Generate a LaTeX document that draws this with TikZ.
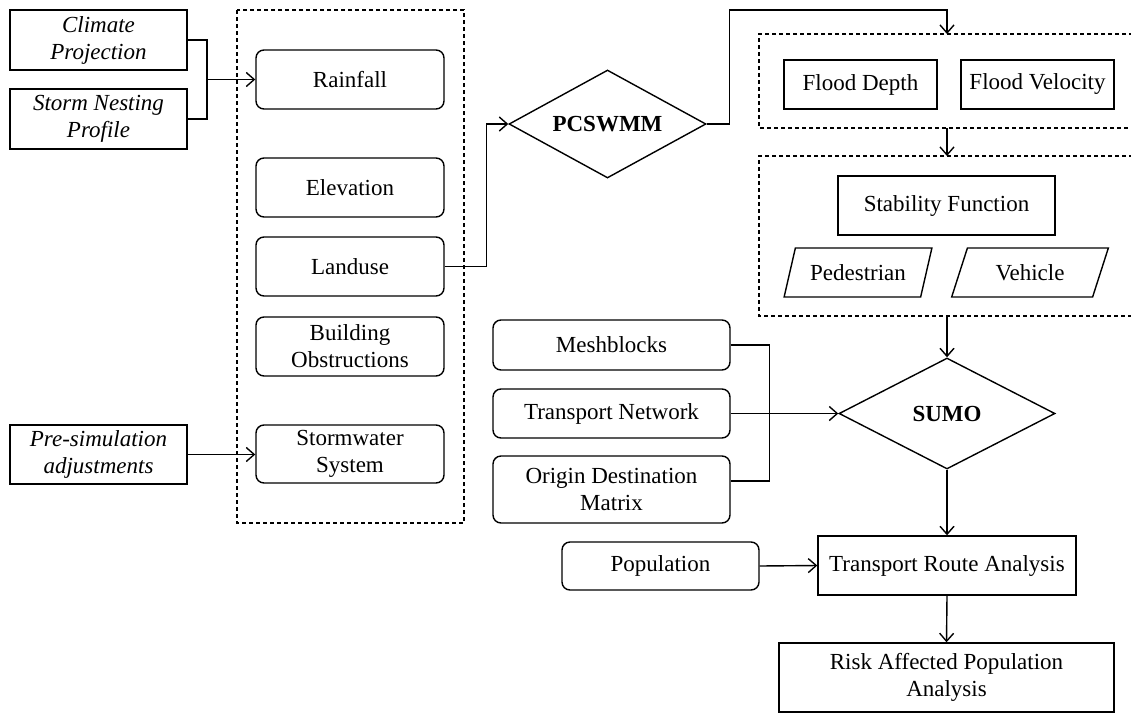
\documentclass[tikz,border=0pt]{standalone}
\usepackage{fontspec}
\setmainfont{Liberation Serif}
\usetikzlibrary{shapes.geometric,arrows.meta,calc}
\begin{document}
\begin{tikzpicture}[x=1pt,y=-1pt,
  every node/.style={font=\fontsize{23}{27}\selectfont, align=center, inner sep=0pt},
  sq/.style={draw, line width=1.4pt, rectangle},
  rnd/.style={draw, line width=1.4pt, rounded corners=8pt, rectangle},
  dia/.style={draw, line width=1.4pt, diamond, aspect=1.8, font=\fontsize{23}{27}\selectfont\bfseries},
  para/.style={draw, line width=1.4pt, trapezium, trapezium left angle=62, trapezium right angle=118, trapezium stretches=true},
  grp/.style={draw, line width=1.2pt, dash pattern=on 4pt off 3pt},
  arr/.style={line width=1.4pt, -{Straight Barb[length=8pt,width=14pt]}},
  ln/.style={line width=1.4pt}]
\fill[white] (0,0) rectangle (1131,715);
\useasboundingbox (0,0) rectangle (1131,715);
\clip (0,0) rectangle (1131,715);

% groups
\draw[grp] (237,10) rectangle (464,523);
\draw[grp] (1140,34) -| (759,128) -- (1140,128);
\draw[grp] (1140,156) -| (759,316) -- (1140,316);
\coordinate (g1t) at (947,34);
\coordinate (g1b) at (947,128);
\coordinate (g2t) at (947,156);
\coordinate (g2b) at (947,316);
\coordinate (topturn) at (947,10);

% left inputs
\node[sq, minimum width=177pt, minimum height=60pt] (clim) at (98.5,40) {\itshape Climate\\\itshape Projection};
\node[sq, minimum width=177pt, minimum height=60pt] (storm) at (98.5,119) {\itshape Storm Nesting\\\itshape Profile};
\node[sq, minimum width=177pt, minimum height=59pt] (presim) at (98.5,454.5) {\itshape Pre-simulation\\\itshape adjustments};

% data inputs
\node[rnd, minimum width=188pt, minimum height=59pt] (rain) at (350,79.5) {Rainfall};
\node[rnd, minimum width=188pt, minimum height=59pt] (elev) at (350,187.5) {Elevation};
\node[rnd, minimum width=188pt, minimum height=59pt] (land) at (350,266.5) {Landuse};
\node[rnd, minimum width=188pt, minimum height=59pt] (build) at (350,346.5) {Building\\Obstructions};
\node[rnd, minimum width=188pt, minimum height=58pt] (storw) at (350,454) {Stormwater\\System};

% PCSWMM
\node[dia, minimum width=197pt, minimum height=108pt] (pcswmm) at (607.5,124) {PCSWMM};

% flood outputs
\node[sq, minimum width=153pt, minimum height=49pt] (fd) at (860.5,84.5) {Flood Depth};
\node[sq, minimum width=153pt, minimum height=49pt] (fv) at (1037.5,84.5) {Flood Velocity};
\node[sq, minimum width=217pt, minimum height=59pt] (stab) at (946.5,205.5) {Stability Function};
\node[para, minimum width=148pt, minimum height=49pt] (ped) at (858,272.5) {Pedestrian};
\node[para, minimum width=158pt, minimum height=49pt] (veh) at (1030,272.5) {Vehicle};

% SUMO inputs
\node[rnd, minimum width=237pt, minimum height=50pt] (mesh) at (611.5,345) {Meshblocks};
\node[rnd, minimum width=237pt, minimum height=49pt] (trans) at (611.5,413.5) {Transport Network};
\node[rnd, minimum width=237pt, minimum height=67pt] (odm) at (611.5,489.5) {Origin Destination\\Matrix};
\node[rnd, minimum width=197pt, minimum height=48pt] (pop) at (660.5,566) {Population};

\node[dia, minimum width=216pt, minimum height=111pt] (sumo) at (947,413.5) {SUMO};
\node[sq, minimum width=258pt, minimum height=59pt] (tra) at (947,565.5) {Transport Route Analysis};
\node[sq, minimum width=335pt, minimum height=69pt] (risk) at (946.5,677.5) {Risk Affected Population\\Analysis};

% connectors
\coordinate (j1) at (207,79.5);
\draw[ln] (clim.east) -| (j1) |- (storm.east);
\draw[arr] (j1) -- (rain.west);
\draw[arr] (presim.east) -- (presim.east -| storw.west);
\draw[arr] (land.east) -- ++(42,0) |- (pcswmm.west);
\draw[arr] (pcswmm.east) -- ++(23,0) |- (topturn) -- (g1t);
\draw[arr] (g1b) -- (g2t);
\draw[arr] (g2b) -- (sumo.north);
\draw[ln] (mesh.east) -- ++(39,0) |- ([yshift=8.5pt]odm.east);
\draw[arr] (trans.east) -- (sumo.west);
\draw[arr] (sumo.south) -- (tra.north);
\draw[arr] (pop.east) -- (tra.west);
\draw[arr] (tra.south) -- (risk.north);
\end{tikzpicture}
\end{document}
